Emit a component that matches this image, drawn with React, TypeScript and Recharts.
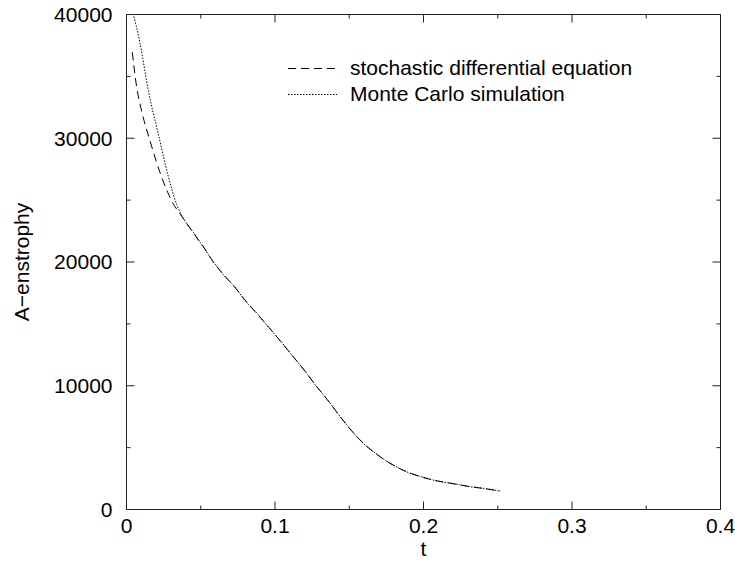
import React from 'react';
import { LineChart, Line, XAxis, YAxis, Legend } from 'recharts';

const sdeT = [0.0039, 0.0069, 0.0102, 0.0158, 0.0237, 0.0315, 0.036, 0.045, 0.052, 0.059, 0.066, 0.073, 0.08, 0.088, 0.096, 0.104, 0.112, 0.12, 0.128, 0.136, 0.144, 0.152, 0.16, 0.168, 0.176, 0.184, 0.192, 0.2, 0.21, 0.22, 0.23, 0.24, 0.2517];
const sdeValues = [36950, 34100, 32200, 29800, 26850, 24700, 23900, 22350, 21200, 19900, 18900, 17950, 16900, 15800, 14700, 13550, 12400, 11200, 9950, 8750, 7500, 6300, 5300, 4500, 3850, 3300, 2900, 2580, 2300, 2080, 1880, 1700, 1500];

const mcT = [0.004, 0.0091, 0.0147, 0.0214, 0.0282, 0.0338, 0.04, 0.045, 0.052, 0.059, 0.066, 0.073, 0.08, 0.088, 0.096, 0.104, 0.112, 0.12, 0.128, 0.136, 0.144, 0.152, 0.16, 0.168, 0.176, 0.184, 0.192, 0.2, 0.21, 0.22, 0.23, 0.24, 0.2517];
const mcValues = [40300, 37700, 33850, 30350, 26900, 24650, 23200, 22400, 21150, 19950, 18850, 17980, 16850, 15830, 14680, 13580, 12380, 11220, 9930, 8770, 7480, 6320, 5280, 4530, 3830, 3320, 2880, 2600, 2280, 2100, 1860, 1720, 1480];

const xTicks = [0, 0.05, 0.1, 0.15, 0.2, 0.25, 0.3, 0.35, 0.4];
const yTicks = [0, 5000, 10000, 15000, 20000, 25000, 30000, 35000, 40000];

const seriesNames = ['stochastic differential equation', 'Monte Carlo simulation'];

const sdeData = sdeT.map((t, i) => ({ t, v: sdeValues[i] }));
const mcData = mcT.map((t, i) => ({ t, v: mcValues[i] }));

const FONT = '"Liberation Sans", Arial, Helvetica, sans-serif';
const FS = 21;
const AX = '#222';
const X_TICK_MARGIN = 9;

const isMajorX = (v: number) => Math.round(v * 100) % 10 === 0;
const isMajorY = (v: number) => Math.round(v) % 10000 === 0;
const fmtX = (v: number) => (v === 0 ? '0' : String(Math.round(v * 10) / 10));

const BottomTick = (props: any) => {
  const { x, y, payload } = props;
  const v = payload.value;
  const major = isMajorX(v);
  const axisY = y - X_TICK_MARGIN;
  return (
    <g>
      <line x1={x} x2={x} y1={axisY} y2={axisY - (major ? 8 : 4)} stroke={AX} strokeWidth={1} />
      {major && (
        <text x={x} y={y} dy="0.71em" textAnchor="middle" fontFamily={FONT} fontSize={FS} fill="#000">
          {fmtX(v)}
        </text>
      )}
    </g>
  );
};

const TopTick = (props: any) => {
  const { x, y, payload } = props;
  const major = isMajorX(payload.value);
  return <line x1={x} x2={x} y1={y} y2={y + (major ? 8 : 4)} stroke={AX} strokeWidth={1} />;
};

const LeftTick = (props: any) => {
  const { x, y, payload } = props;
  const v = payload.value;
  const major = isMajorY(v);
  const axisX = x + 14;
  return (
    <g>
      <line x1={axisX} x2={axisX + (major ? 8 : 4)} y1={y} y2={y} stroke={AX} strokeWidth={1} />
      {major && (
        <text x={x} y={y} dy="0.355em" textAnchor="end" fontFamily={FONT} fontSize={FS} fill="#000">
          {String(v)}
        </text>
      )}
    </g>
  );
};

const RightTick = (props: any) => {
  const { x, y, payload } = props;
  const major = isMajorY(payload.value);
  return <line x1={x} x2={x - (major ? 8 : 4)} y1={y} y2={y} stroke={AX} strokeWidth={1} />;
};

const YLabel = (props: any) => {
  const vb = props.viewBox || {};
  const cy = (vb.y || 0) + (vb.height || 0) / 2;
  return (
    <text x={21.5} y={cy} transform={`rotate(-90, 21.5, ${cy})`} textAnchor="middle" dominantBaseline="central" fontFamily={FONT} fontSize={FS} fill="#000">
      A−enstrophy
    </text>
  );
};

const XLabel = (props: any) => {
  const vb = props.viewBox || {};
  const cx = (vb.x || 0) + (vb.width || 0) / 2;
  return (
    <text x={cx} y={556} textAnchor="middle" fontFamily={FONT} fontSize={FS} fill="#000">
      t
    </text>
  );
};

const dashes = ['8 5', '1.5 1.5'];

const LegendBox = () => (
  <div style={{ fontFamily: FONT, fontSize: FS, color: '#000' }}>
    {seriesNames.map((n, i) => (
      <div key={n} style={{ display: 'flex', alignItems: 'center', height: 26 }}>
        <svg width={49} height={26} style={{ display: 'block' }}>
          <line x1={0} x2={49} y1={13.5} y2={13.5} stroke="#000" strokeWidth={1} strokeDasharray={dashes[i]} />
        </svg>
        <span style={{ marginLeft: 13, whiteSpace: 'nowrap', lineHeight: '26px' }}>{n}</span>
      </div>
    ))}
  </div>
);

export default function App() {
  return (
    <div style={{ position: 'absolute', left: 0, top: 0, width: 735, height: 561, background: '#fff' }}>
      <LineChart width={735} height={561} margin={{ top: 0, right: 0, bottom: 0, left: 0 }}>
        <XAxis
          xAxisId={0}
          dataKey="t"
          type="number"
          domain={[0, 0.4]}
          ticks={xTicks}
          interval={0}
          allowDataOverflow
          height={51.5}
          tickSize={0}
          tickMargin={X_TICK_MARGIN}
          tickLine={false}
          tick={<BottomTick />}
          axisLine={{ stroke: AX, strokeWidth: 1 }}
          label={<XLabel />}
        />
        <XAxis
          xAxisId="top"
          orientation="top"
          dataKey="t"
          type="number"
          domain={[0, 0.4]}
          ticks={xTicks}
          interval={0}
          allowDataOverflow
          height={14.5}
          tickSize={0}
          tickMargin={0}
          tickLine={false}
          tick={<TopTick />}
          axisLine={{ stroke: AX, strokeWidth: 1 }}
        />
        <YAxis
          yAxisId={0}
          type="number"
          domain={[0, 40000]}
          ticks={yTicks}
          interval={0}
          allowDataOverflow
          width={126.5}
          tickSize={0}
          tickMargin={14}
          tickLine={false}
          tick={<LeftTick />}
          axisLine={{ stroke: AX, strokeWidth: 1 }}
          label={<YLabel />}
        />
        <YAxis
          yAxisId="right"
          orientation="right"
          type="number"
          domain={[0, 40000]}
          ticks={yTicks}
          interval={0}
          allowDataOverflow
          width={14.5}
          tickSize={0}
          tickMargin={0}
          tickLine={false}
          tick={<RightTick />}
          axisLine={{ stroke: AX, strokeWidth: 1 }}
        />
        <Legend
          layout="horizontal"
          verticalAlign="middle"
          align="center"
          width={400}
          wrapperStyle={{ top: 55, left: 288 }}
          content={<LegendBox />}
        />
        <Line
          data={sdeData}
          dataKey="v"
          name={seriesNames[0]}
          xAxisId={0}
          yAxisId={0}
          type="monotone"
          stroke="#000"
          strokeWidth={1}
          strokeDasharray={dashes[0]}
          dot={false}
          activeDot={false}
          isAnimationActive={false}
        />
        <Line
          data={mcData}
          dataKey="v"
          name={seriesNames[1]}
          xAxisId={0}
          yAxisId={0}
          type="monotone"
          stroke="#000"
          strokeWidth={1}
          strokeDasharray={dashes[1]}
          dot={false}
          activeDot={false}
          isAnimationActive={false}
        />
      </LineChart>
    </div>
  );
}
